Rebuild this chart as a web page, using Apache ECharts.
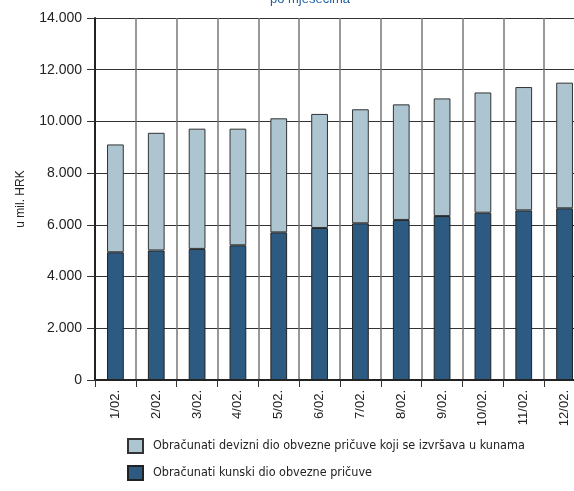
<!DOCTYPE html>
<html>
<head>
<meta charset="utf-8">
<script src="https://cdn.jsdelivr.net/npm/echarts@6/dist/echarts.min.js"></script>
<style>html,body{margin:0;padding:0;background:#fff;}#c{width:574px;height:491px;}</style>
</head>
<body>
<div id="c"></div>
<script>
const categories = ['1/02.','2/02.','3/02.','4/02.','5/02.','6/02.','7/02.','8/02.','9/02.','10/02.','11/02.','12/02.'];
const kunski = [4940, 5010, 5070, 5210, 5710, 5880, 6060, 6190, 6340, 6470, 6560, 6640];
const devizni = [4170, 4550, 4650, 4510, 4410, 4410, 4410, 4470, 4550, 4650, 4770, 4860];
const yTicks = [0, 2000, 4000, 6000, 8000, 10000, 12000, 14000];
const seriesNames = ['Obračunati devizni dio obvezne pričuve koji se izvršava u kunama', 'Obračunati kunski dio obvezne pričuve'];

const chart = echarts.init(document.getElementById('c'));
const fmt = v => v === 0 ? '0' : (v / 1000).toFixed(3);
chart.setOption({
  animation: false,
  title: {
    text: 'po mjesecima',
    left: 305, top: -12,
    textAlign: 'center',
    textStyle: { color: '#1f5f9f', fontSize: 13, fontWeight: 'normal', fontFamily: 'Liberation Sans' }
  },
  legend: {
    orient: 'vertical',
    left: 127, top: 438,
    padding: 0,
    icon: 'rect',
    itemWidth: 15, itemHeight: 14, itemGap: 11,
    data: seriesNames,
    textStyle: { fontFamily: '"DejaVu Sans Condensed", "Liberation Sans Narrow", sans-serif', fontSize: 12.5, color: '#222', padding: [0, 0, 0, 5] }
  },
  grid: { left: 95, top: 18, width: 490, height: 362, outerBoundsMode: 'none', containLabel: false },
  xAxis: {
    type: 'category',
    data: categories,
    axisLine: { lineStyle: { color: '#222', width: 2 } },
    axisTick: { show: true, length: 7, lineStyle: { color: '#333' } },
    axisLabel: { rotate: 90, fontSize: 13, color: '#222', fontFamily: 'Liberation Sans', margin: 10, interval: 0 },
    splitLine: { show: true, interval: 0, lineStyle: { color: '#777', width: 1.5 } }
  },
  yAxis: {
    type: 'value',
    min: 0, max: 14000, interval: 2000,
    name: 'u mil. HRK',
    nameLocation: 'middle',
    nameGap: 68,
    nameTextStyle: { fontSize: 12, color: '#222', fontFamily: 'Liberation Sans' },
    axisLine: { show: true, lineStyle: { color: '#222', width: 2 } },
    axisTick: { show: true, length: 8, lineStyle: { color: '#333' } },
    axisLabel: { fontSize: 14, color: '#222', fontFamily: 'Liberation Sans', margin: 13,
      formatter: v => yTicks.includes(v) ? fmt(v) : '' },
    splitLine: { show: true, lineStyle: { color: '#333', width: 1 } }
  },
  series: [
    {
      name: seriesNames[1], type: 'bar', stack: 't', data: kunski, barWidth: '41%',
      itemStyle: { color: '#2c5a80', borderColor: '#222', borderWidth: 1 }
    },
    {
      name: seriesNames[0], type: 'bar', stack: 't', data: devizni, barWidth: '41%',
      itemStyle: { color: '#adc5d1', borderColor: '#333', borderWidth: 1 }
    }
  ]
});
</script>
</body>
</html>
